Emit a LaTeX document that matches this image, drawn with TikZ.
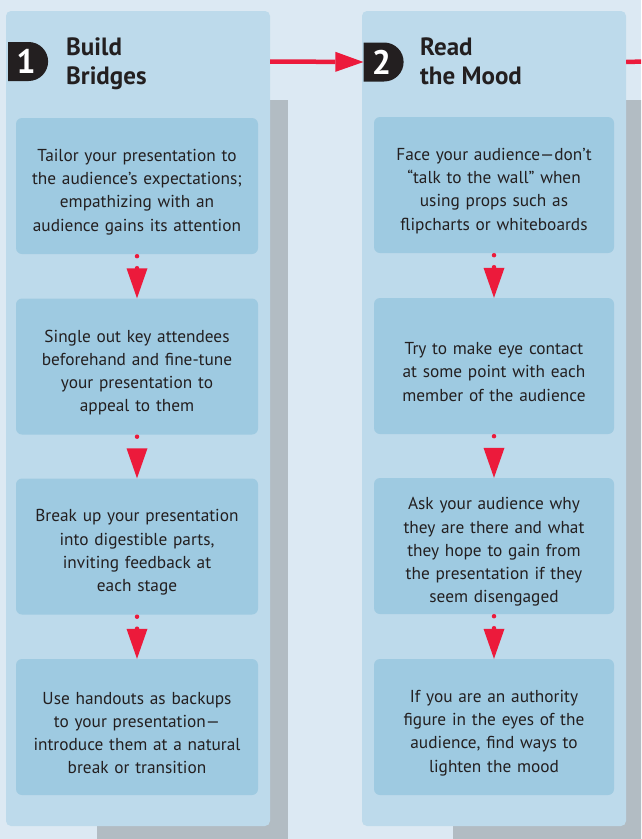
\documentclass[tikz,border=0pt]{standalone}
\usepackage{fontspec}
\setmainfont{PT Sans}
\usetikzlibrary{arrows.meta,shapes.misc}

\definecolor{bgblue}{HTML}{DCE9F3}
\definecolor{panelblue}{HTML}{BDDAEB}
\definecolor{boxblue}{HTML}{9ECAE1}
\definecolor{shadowgray}{HTML}{B2BCC3}
\definecolor{flowred}{HTML}{EC1A3B}
\definecolor{inkblack}{HTML}{231F20}

\tikzset{
    panel/.style={fill=panelblue, rounded corners=5pt, minimum width=264pt,
        minimum height=815pt, inner sep=0pt},
    tipbox/.style={fill=boxblue, rounded corners=6pt, minimum width=242pt,
        minimum height=136pt, inner sep=0pt, text width=236pt, align=center,
        text=inkblack, font=\fontsize{17.3}{23.2}\selectfont,
        execute at end node={\par\vspace*{-12pt}}},
    badge/.style={rounded rectangle, rounded rectangle west arc=none,
        fill=inkblack, text=white, minimum width=40pt, minimum height=39pt,
        inner sep=0pt, font=\fontsize{34}{34}\selectfont\bfseries},
    heading/.style={anchor=north west, align=left, text=inkblack, inner sep=0pt,
        font=\fontsize{25}{28.5}\selectfont\bfseries},
    stepflow/.style={draw=flowred, line width=4.5pt, line cap=round,
        dash pattern=on 0pt off 12pt, shorten <=2pt,
        -{Triangle[width=21pt,length=30pt,line width=0pt 0 0]}},
    panelflow/.style={draw=flowred, line width=4.5pt,
        -{Triangle[width=20pt,length=28pt,line width=0pt 0 0]}}
}

\begin{document}
\begin{tikzpicture}[x=1pt, y=-1pt]
    \useasboundingbox (0,0) rectangle (641,839);
    \clip (0,0) rectangle (641,839);
    \fill[bgblue] (0,0) rectangle (641,839);

    % Shadows behind the two columns
    \fill[shadowgray] (97,100) rectangle (288,845);
    \fill[shadowgray] (453,100) rectangle (660,845);

    % Column 1
    \node[panel] (p1) at (138,418.5) {};
    \node[badge] (badge1) at (26,61.5) {1};
    \node[heading] (title1) at (66,38) {Build\\Bridges};

    \node[tipbox] (b11) at (137,186) {Tailor your presentation to\\the audience’s expectations;\\empathizing with an\\audience gains its attention};
    \node[tipbox] (b12) at (137,366.5) {Single out key attendees\\beforehand and fine-tune\\your presentation to\\appeal to them};
    \node[tipbox] (b13) at (137,546.5) {Break up your presentation\\into digestible parts,\\inviting feedback at\\each stage};
    \node[tipbox] (b14) at (137,727) {Use handouts as backups\\to your presentation—\\introduce them at a natural\\break or transition};

    \draw[stepflow] (b11.south) -- (b12.north);
    \draw[stepflow] (b12.south) -- (b13.north);
    \draw[stepflow] (b13.south) -- (b14.north);

    % Column 2
    \node[panel] (p2) at (494,418.5) {};
    \node[badge] (badge2) at (381.5,62) {2};
    \node[heading] (title2) at (420,38) {Read\\the Mood};

    \node[tipbox, minimum width=240pt] (b21) at (494,185) {Face your audience—don’t\\“talk to the wall” when\\using props such as\\flipcharts or whiteboards};
    \node[tipbox, minimum width=240pt] (b22) at (494,366) {Try to make eye contact\\at some point with each\\member of the audience};
    \node[tipbox, minimum width=240pt] (b23) at (494,546) {Ask your audience why\\they are there and what\\they hope to gain from\\the presentation if they\\seem disengaged};
    \node[tipbox, minimum width=240pt] (b24) at (494,727) {If you are an authority\\figure in the eyes of the\\audience, find ways to\\lighten the mood};

    \draw[stepflow] (b21.south) -- (b22.north);
    \draw[stepflow] (b22.south) -- (b23.north);
    \draw[stepflow] (b23.south) -- (b24.north);

    % Link between the columns
    \coordinate (next) at (660,61);
    \draw[panelflow] (p1.east |- badge1) -- (badge2.west);
    \draw[draw=flowred, line width=4.5pt] (p2.east |- badge2) -- (next);
\end{tikzpicture}
\end{document}
